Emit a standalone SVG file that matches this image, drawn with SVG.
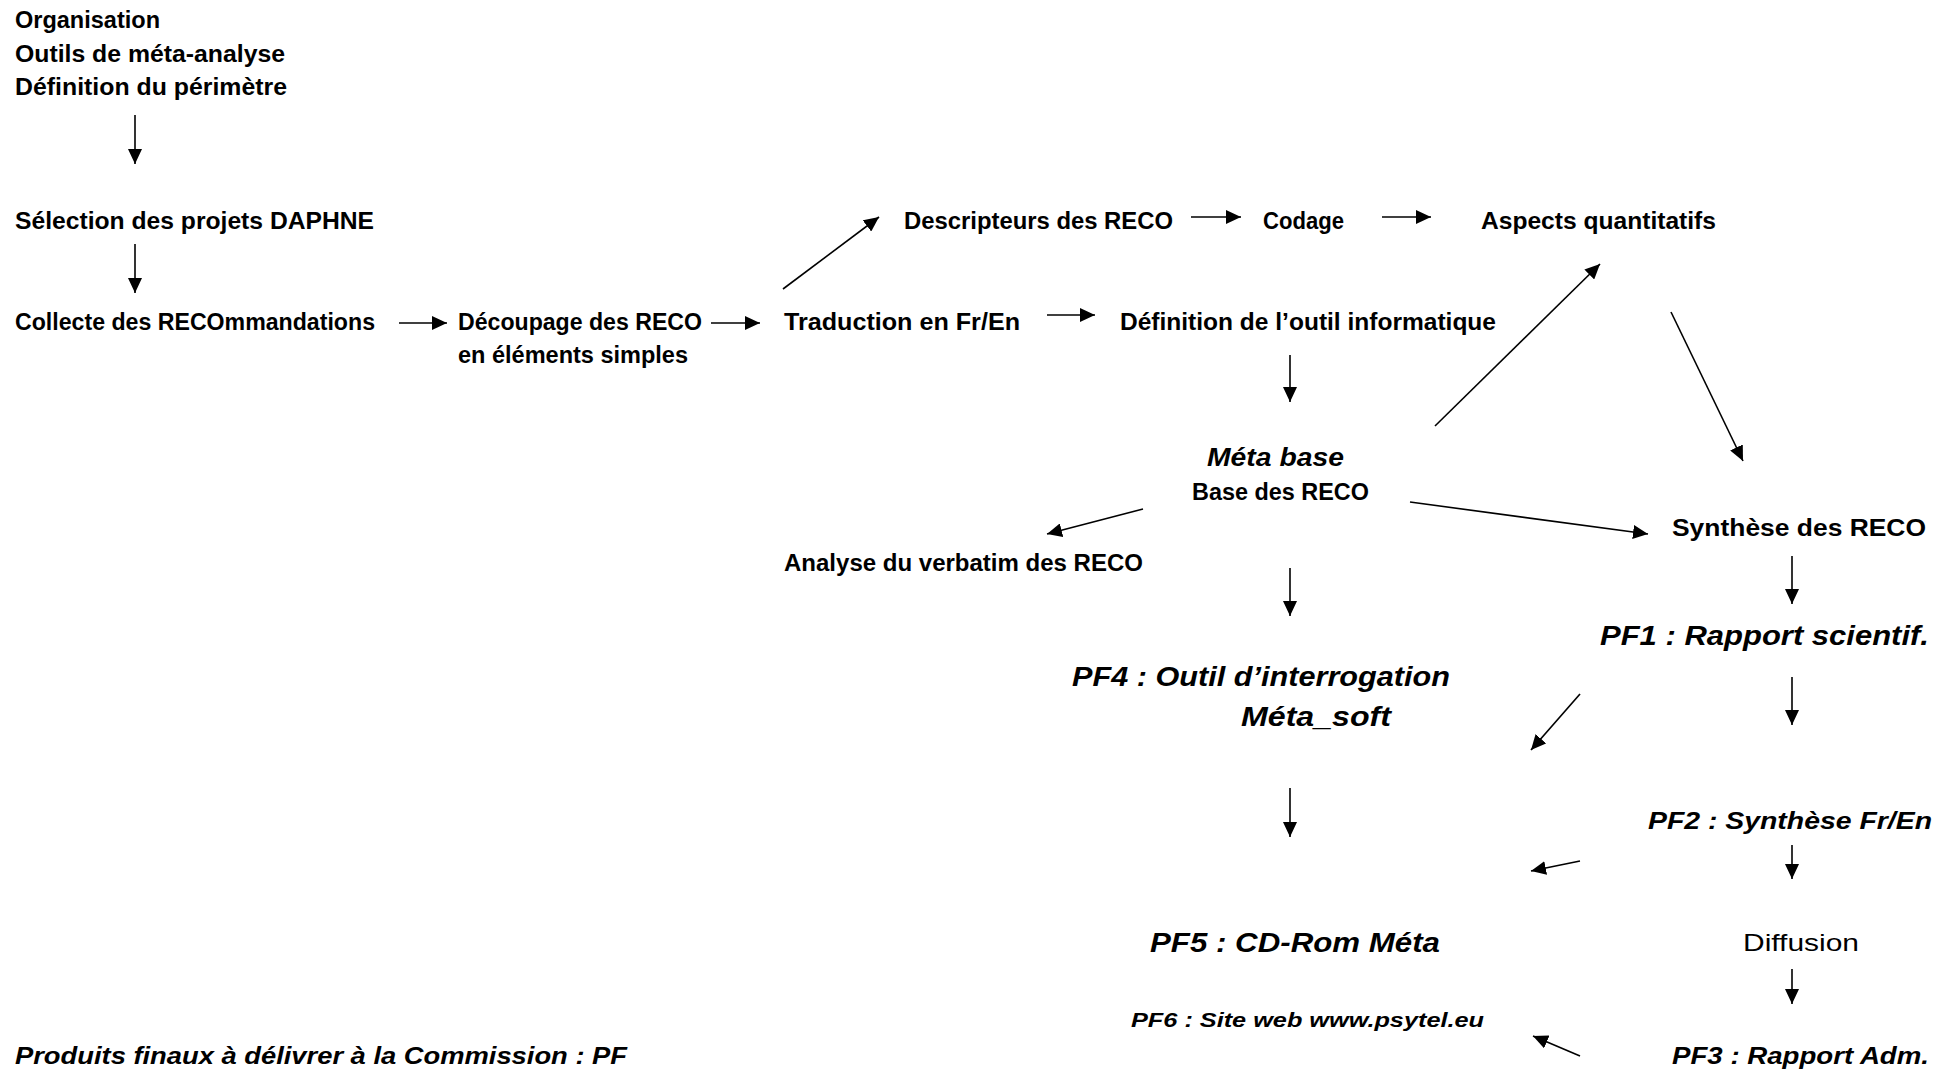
<svg xmlns="http://www.w3.org/2000/svg" width="1955" height="1070" viewBox="0 0 1955 1070">
<style>
text{font-family:"Liberation Sans","DejaVu Sans",sans-serif;font-weight:bold;font-size:23px;fill:#000}
.it{font-style:italic}
.big{font-size:27px}
.mid{font-size:25px}
.sm{font-size:20px}
.reg{font-weight:normal;font-size:24px}
.c line{stroke:#000;stroke-width:1.6;fill:none}
</style>
<defs>
<marker id="ah" markerUnits="userSpaceOnUse" markerWidth="16" markerHeight="14" refX="15" refY="7" orient="auto">
<path d="M0,0 L15,7 L0,14 z" fill="#000"/>
</marker>
</defs>
<rect width="1955" height="1070" fill="#fff"/>
<g transform="translate(0,1.5)">
<g id="n-organisation">
<text x="15" y="26" textLength="145" lengthAdjust="spacingAndGlyphs">Organisation</text>
<text x="15" y="60" textLength="270" lengthAdjust="spacingAndGlyphs">Outils de méta-analyse</text>
<text x="15" y="93" textLength="272" lengthAdjust="spacingAndGlyphs">Définition du périmètre</text>
</g>
<g id="n-selection"><text x="15" y="227" textLength="359" lengthAdjust="spacingAndGlyphs">Sélection des projets DAPHNE</text></g>
<g id="n-collecte"><text x="15" y="328" textLength="360" lengthAdjust="spacingAndGlyphs">Collecte des RECOmmandations</text></g>
<g id="n-decoupage">
<text x="458" y="328" textLength="244" lengthAdjust="spacingAndGlyphs">Découpage des RECO</text>
<text x="458" y="361" textLength="230" lengthAdjust="spacingAndGlyphs">en éléments simples</text>
</g>
<g id="n-traduction"><text x="784" y="328" textLength="236" lengthAdjust="spacingAndGlyphs">Traduction en Fr/En</text></g>
<g id="n-definition-outil"><text x="1120" y="328" textLength="376" lengthAdjust="spacingAndGlyphs">Définition de l’outil informatique</text></g>
<g id="n-descripteurs"><text x="904" y="227" textLength="269" lengthAdjust="spacingAndGlyphs">Descripteurs des RECO</text></g>
<g id="n-codage"><text x="1263" y="227" textLength="81" lengthAdjust="spacingAndGlyphs">Codage</text></g>
<g id="n-aspects"><text x="1481" y="227" textLength="235" lengthAdjust="spacingAndGlyphs">Aspects quantitatifs</text></g>
<g id="n-metabase">
<text class="it mid" x="1207" y="464" textLength="137" lengthAdjust="spacingAndGlyphs">Méta base</text>
<text x="1192" y="498" textLength="177" lengthAdjust="spacingAndGlyphs">Base des RECO</text>
</g>
<g id="n-analyse"><text x="784" y="569" textLength="359" lengthAdjust="spacingAndGlyphs">Analyse du verbatim des RECO</text></g>
<g id="n-synthese"><text x="1672" y="534" textLength="254" lengthAdjust="spacingAndGlyphs">Synthèse des RECO</text></g>
<g id="n-pf1"><text class="it big" x="1600" y="643" textLength="329" lengthAdjust="spacingAndGlyphs">PF1 : Rapport scientif.</text></g>
<g id="n-pf4">
<text class="it big" x="1072" y="684" textLength="378" lengthAdjust="spacingAndGlyphs">PF4 : Outil d’interrogation</text>
<text class="it big" x="1241" y="724" textLength="150" lengthAdjust="spacingAndGlyphs">Méta_soft</text>
</g>
<g id="n-pf2"><text class="it" x="1648" y="827" textLength="284" lengthAdjust="spacingAndGlyphs">PF2 : Synthèse Fr/En</text></g>
<g id="n-pf5"><text class="it big" x="1150" y="950" textLength="290" lengthAdjust="spacingAndGlyphs">PF5 : CD-Rom Méta</text></g>
<g id="n-diffusion"><text class="reg" x="1743" y="949" textLength="116" lengthAdjust="spacingAndGlyphs">Diffusion</text></g>
<g id="n-pf6"><text class="it sm" x="1131" y="1025" textLength="353" lengthAdjust="spacingAndGlyphs">PF6 : Site web www.psytel.eu</text></g>
<g id="n-produits"><text class="it" x="15" y="1062" textLength="612" lengthAdjust="spacingAndGlyphs">Produits finaux à délivrer à la Commission : PF</text></g>
<g id="n-pf3"><text class="it" x="1672" y="1062" textLength="257" lengthAdjust="spacingAndGlyphs">PF3 : Rapport Adm.</text></g>
</g>
<g id="connectors" class="c">
<line x1="135" y1="115" x2="135" y2="164" marker-end="url(#ah)"/>
<line x1="135" y1="244" x2="135" y2="293" marker-end="url(#ah)"/>
<line x1="399" y1="323" x2="447" y2="323" marker-end="url(#ah)"/>
<line x1="711" y1="323" x2="760" y2="323" marker-end="url(#ah)"/>
<line x1="1047" y1="315" x2="1095" y2="315" marker-end="url(#ah)"/>
<line x1="783" y1="289" x2="879" y2="217" marker-end="url(#ah)"/>
<line x1="1191" y1="217" x2="1241" y2="217" marker-end="url(#ah)"/>
<line x1="1382" y1="217" x2="1431" y2="217" marker-end="url(#ah)"/>
<line x1="1290" y1="355" x2="1290" y2="402" marker-end="url(#ah)"/>
<line x1="1435" y1="426" x2="1600" y2="264" marker-end="url(#ah)"/>
<line x1="1671" y1="312" x2="1743" y2="461" marker-end="url(#ah)"/>
<line x1="1143" y1="509" x2="1047" y2="534" marker-end="url(#ah)"/>
<line x1="1410" y1="502" x2="1648" y2="534" marker-end="url(#ah)"/>
<line x1="1290" y1="568" x2="1290" y2="616" marker-end="url(#ah)"/>
<line x1="1792" y1="556" x2="1792" y2="604" marker-end="url(#ah)"/>
<line x1="1792" y1="677" x2="1792" y2="725" marker-end="url(#ah)"/>
<line x1="1580" y1="694" x2="1531" y2="750" marker-end="url(#ah)"/>
<line x1="1290" y1="788" x2="1290" y2="837" marker-end="url(#ah)"/>
<line x1="1580" y1="861" x2="1531" y2="871" marker-end="url(#ah)"/>
<line x1="1792" y1="845" x2="1792" y2="879" marker-end="url(#ah)"/>
<line x1="1792" y1="969" x2="1792" y2="1004" marker-end="url(#ah)"/>
<line x1="1580" y1="1056" x2="1533" y2="1036" marker-end="url(#ah)"/>
</g>
</svg>
